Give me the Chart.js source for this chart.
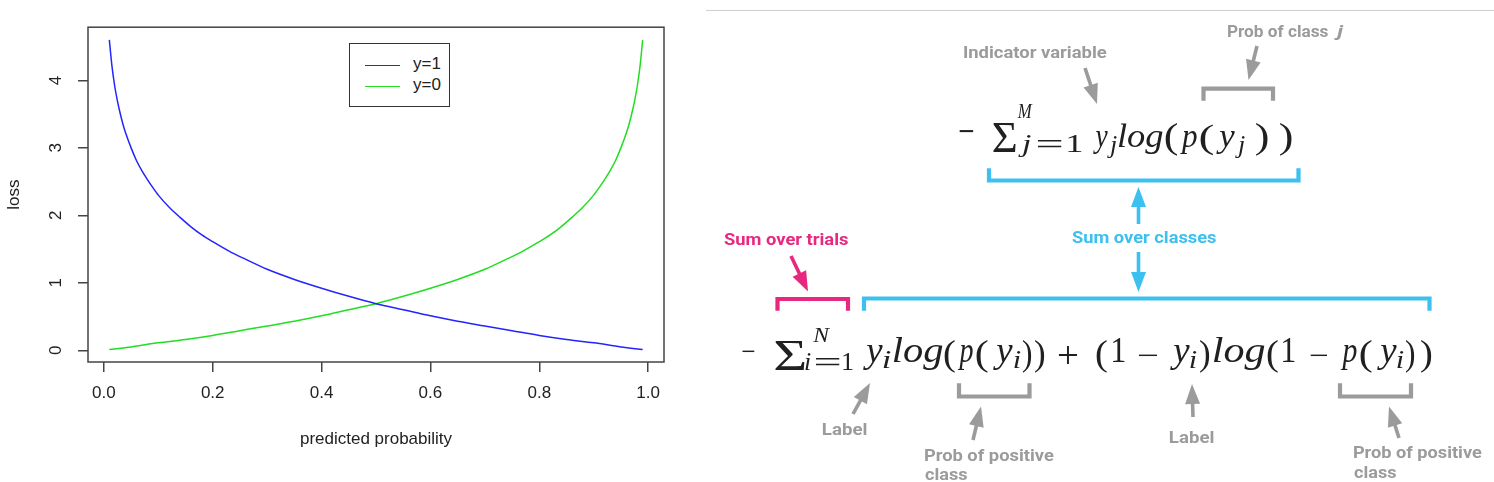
<!DOCTYPE html>
<html>
<head>
<meta charset="utf-8">
<script src="https://cdn.jsdelivr.net/npm/chart.js@4.4.0/dist/chart.umd.min.js"></script>
<style>
  html, body { margin: 0; padding: 0; background: #fff; }
  #wrap { position: relative; width: 1494px; height: 482px; overflow: hidden; }
  #lossChart { position: absolute; left: 0; top: 0; }
  #legend {
    position: absolute; left: 349px; top: 43px; width: 99px; height: 62px;
    border: 1.5px solid #333; background: #fff;
    font: 17px "Liberation Sans", Arial, sans-serif; color: #222;
  }
  #legend .sw { position: absolute; left: 15px; width: 35px; height: 0; border-top: 1.6px solid; }
  #legend .tx { position: absolute; left: 63px; line-height: 20px; }
  #diag { position: absolute; left: 0; top: 0; }
</style>
</head>
<body>
<div id="wrap">
  <canvas id="lossChart" width="700" height="482"></canvas>
  <div id="legend"></div>
  <svg id="diag" width="1494" height="482" xmlns="http://www.w3.org/2000/svg"></svg>
</div>
<script>
// predicted probability on x, loss on y
const probs1 = [0.01, 0.015, 0.02, 0.025, 0.03, 0.035, 0.04, 0.05, 0.06, 0.07, 0.08, 0.09, 0.1,
  0.12, 0.14, 0.16, 0.18, 0.2, 0.23, 0.26, 0.3, 0.35, 0.4, 0.45, 0.5, 0.55, 0.6, 0.65, 0.7,
  0.75, 0.8, 0.85, 0.9, 0.95, 0.99];
const lossY1 = [4.6, 4.2, 3.91, 3.69, 3.51, 3.35, 3.22, 3.0, 2.81, 2.66, 2.53, 2.41, 2.3,
  2.12, 1.97, 1.83, 1.71, 1.61, 1.47, 1.35, 1.2, 1.05, 0.92, 0.8, 0.69, 0.6, 0.51, 0.43, 0.36,
  0.29, 0.22, 0.16, 0.11, 0.05, 0.01];
const probs0 = [0.01, 0.05, 0.1, 0.15, 0.2, 0.25, 0.3, 0.35, 0.4, 0.45, 0.5, 0.55, 0.6, 0.65,
  0.7, 0.74, 0.77, 0.8, 0.82, 0.84, 0.86, 0.88, 0.9, 0.91, 0.92, 0.93, 0.94, 0.95, 0.96,
  0.965, 0.97, 0.975, 0.98, 0.985, 0.99];
const lossY0 = [0.01, 0.05, 0.11, 0.16, 0.22, 0.29, 0.36, 0.43, 0.51, 0.6, 0.69, 0.8, 0.92, 1.05,
  1.2, 1.35, 1.47, 1.61, 1.71, 1.83, 1.97, 2.12, 2.3, 2.41, 2.53, 2.66, 2.81, 3.0, 3.22,
  3.35, 3.51, 3.69, 3.91, 4.2, 4.6];

const seriesNames = ["y=1", "y=0"];
const xTicks = [0, 0.2, 0.4, 0.6, 0.8, 1.0];
const xTickLabels = ["0.0", "0.2", "0.4", "0.6", "0.8", "1.0"];
const yTicks = [0, 1, 2, 3, 4];
const yTickLabels = ["0", "1", "2", "3", "4"];

const BLUE = "#2424ff";
const GREEN = "#22de22";
const AXIS = "#444";
const FONT = "'Liberation Sans', Arial, sans-serif";

// R style box around the plot region
const plotBox = {
  id: "plotBox",
  afterDraw(chart) {
    const a = chart.chartArea;
    const ctx = chart.ctx;
    ctx.save();
    ctx.strokeStyle = AXIS;
    ctx.lineWidth = 1.5;
    ctx.strokeRect(a.left, a.top, a.right - a.left, a.bottom - a.top);
    ctx.restore();
  },
};

const ctx = document.getElementById("lossChart").getContext("2d");
new Chart(ctx, {
  type: "line",
  data: {
    datasets: [
      {
        label: seriesNames[0],
        data: probs1.map((p, i) => ({ x: p, y: lossY1[i] })),
        borderColor: BLUE,
        borderWidth: 1.5,
        pointRadius: 0,
        fill: false,
        cubicInterpolationMode: "monotone",
      },
      {
        label: seriesNames[1],
        data: probs0.map((p, i) => ({ x: p, y: lossY0[i] })),
        borderColor: GREEN,
        borderWidth: 1.5,
        pointRadius: 0,
        fill: false,
        cubicInterpolationMode: "monotone",
      },
    ],
  },
  options: {
    responsive: false,
    animation: false,
    devicePixelRatio: 1,
    layout: { padding: { top: 22, right: 36, left: 0, bottom: 0 } },
    plugins: { legend: { display: false }, tooltip: { enabled: false } },
    scales: {
      x: {
        type: "linear",
        min: -0.0292,
        max: 1.0292,
        afterBuildTicks: (s) => { s.ticks = xTicks.map((v) => ({ value: v })); },
        afterFit: (s) => { s.height = 120; },
        border: { display: false },
        grid: { drawOnChartArea: false, drawTicks: true, tickLength: 10, color: AXIS, lineWidth: 1.5 },
        ticks: {
          callback: (v, i) => xTickLabels[i],
          autoSkip: false, maxRotation: 0,
          font: { family: FONT, size: 17 }, color: "#222", padding: 11,
        },
        title: {
          display: true, text: "predicted probability",
          font: { family: FONT, size: 17 }, color: "#222",
          padding: { top: 0, bottom: 32 },
        },
      },
      y: {
        type: "linear",
        min: -0.174,
        max: 4.789,
        afterBuildTicks: (s) => { s.ticks = yTicks.map((v) => ({ value: v })); },
        afterFit: (s) => { s.width = 88; },
        border: { display: false },
        grid: { drawOnChartArea: false, drawTicks: true, tickLength: 10, color: AXIS, lineWidth: 1.5 },
        ticks: {
          callback: (v, i) => yTickLabels[i],
          autoSkip: false, minRotation: 90, maxRotation: 90, crossAlign: "center",
          font: { family: FONT, size: 17 }, color: "#222", padding: 17,
        },
        title: {
          display: true, text: "loss",
          font: { family: FONT, size: 17 }, color: "#222",
          padding: { top: 4, bottom: 0 },
        },
      },
    },
  },
  plugins: [plotBox],
});

// legend
const legend = document.getElementById("legend");
[[BLUE, 21], [GREEN, 42]].forEach(([c, y], i) => {
  const sw = document.createElement("div");
  sw.className = "sw";
  sw.style.top = y + "px";
  sw.style.borderColor = c;
  legend.appendChild(sw);
  const tx = document.createElement("div");
  tx.className = "tx";
  tx.style.top = (y - 11) + "px";
  tx.textContent = seriesNames[i];
  legend.appendChild(tx);
});

// ---------------- formula diagram ----------------
const NS = "http://www.w3.org/2000/svg";
const svg = document.getElementById("diag");
const GRAY = "#9b9b9b";
const CYAN = "#3cc0ef";
const PINK = "#e8287f";
const INK = "#202020";
const SERIF = "'Liberation Serif'";
const SANS = "Roboto";
const measure = document.createElement("canvas").getContext("2d");

function mk(tag, attrs, parent) {
  const e = document.createElementNS(NS, tag);
  for (const k in attrs) e.setAttribute(k, attrs[k]);
  (parent || svg).appendChild(e);
  return e;
}

// put one text run so its ink spans x0..x1; y is the baseline,
// or, when y1 is given, the ink spans y..y1 as well
function put(txt, st, x0, x1, y, y1) {
  const style = st.it ? "italic" : "normal";
  const weight = st.weight || 400;
  measure.font = `${style} ${weight} ${st.size}px ${st.family}`;
  const m = measure.measureText(txt);
  const kx = (x1 - x0) / (m.actualBoundingBoxLeft + m.actualBoundingBoxRight);
  const tx = x0 + m.actualBoundingBoxLeft * kx;
  let ky = 1, ty = y;
  if (y1 !== undefined) {
    ky = (y1 - y) / (m.actualBoundingBoxAscent + m.actualBoundingBoxDescent);
    ty = y + m.actualBoundingBoxAscent * ky;
  }
  const t = mk("text", {
    x: 0, y: 0, "font-family": st.family, "font-size": st.size, "font-style": style,
    "font-weight": weight, fill: st.color,
    transform: `translate(${tx.toFixed(2)},${ty.toFixed(2)}) scale(${kx.toFixed(4)},${ky.toFixed(4)})`,
  });
  t.textContent = txt;
}

function arrow(x1, y1, x2, y2, color) {
  const dx = x2 - x1, dy = y2 - y1, L = Math.hypot(dx, dy);
  const ux = dx / L, uy = dy / L, hl = 20, hw = 7.5;
  const bx = x2 - ux * hl, by = y2 - uy * hl;
  mk("line", { x1, y1, x2: bx + ux * 2, y2: by + uy * 2, stroke: color, "stroke-width": 3.6 });
  mk("polygon", {
    points: `${x2},${y2} ${bx - uy * hw},${by + ux * hw} ${bx + uy * hw},${by - ux * hw}`,
    fill: color,
  });
}

function bracket(x0, x1, yBar, yLeg, color) {
  mk("polyline", {
    points: `${x0},${yLeg} ${x0},${yBar} ${x1},${yBar} ${x1},${yLeg}`,
    fill: "none", stroke: color, "stroke-width": 4.2, "stroke-linejoin": "miter",
  });
}

function drawDiagram() {
  mk("line", { x1: 706, y1: 10.5, x2: 1494, y2: 10.5, stroke: "#cfcfcf", "stroke-width": 1.2 });

  const big = { family: SERIF, size: 33, color: INK };
  const bigI = { family: SERIF, size: 33, color: INK, it: true };
  const sm = { family: SERIF, size: 26, color: INK };
  const smI = { family: SERIF, size: 26, color: INK, it: true };
  const eq = { family: SERIF, size: 32, color: INK };

  // top formula
  put("\u2212", big, 959, 973, 130.4, 132.9);
  put("\u03A3", big, 993, 1016, 121.7, 151.7);
  put("M", { ...smI, size: 21 }, 1017, 1033, 118.3);
  put("j", smI, 1018, 1031, 152);
  put("=", eq, 1037, 1062, 140.6, 148);
  put("1", sm, 1068, 1082, 152);
  put("y", bigI, 1093, 1108, 147);
  put("j", smI, 1107, 1117, 153);
  put("log", bigI, 1118, 1163, 147);
  put("(", big, 1165, 1177, 123, 156.7);
  put("p", bigI, 1180, 1197, 147);
  put("(", big, 1200, 1213, 123, 156.7);
  put("y", bigI, 1216, 1235, 147);
  put("j", smI, 1235, 1245, 153);
  put(")", big, 1256, 1268, 123, 156.7);
  put(")", big, 1280, 1292, 123, 156.7);

  // bottom formula
  const b2 = { ...big, size: 35 };
  const b2I = { ...bigI, size: 35 };
  const s2I = { ...smI, size: 26 };
  put("\u2212", b2, 742, 755, 350.4, 352.9);
  put("\u03A3", b2, 775, 805, 340, 370);
  put("N", { ...smI, size: 21 }, 812, 830, 341.7);
  put("i", smI, 805, 811, 370);
  put("=", eq, 815, 840, 358.6, 366);
  put("1", sm, 843, 853, 370);
  put("y", b2I, 863, 883, 362);
  put("i", s2I, 883, 891, 368);
  put("log", b2I, 893, 943, 362);
  put("(", b2, 944, 955, 338, 373);
  put("p", b2I, 957, 973, 362);
  put("(", b2, 976, 988, 338, 373);
  put("y", b2I, 993, 1013, 362);
  put("i", s2I, 1014, 1021, 368);
  put(")", b2, 1023, 1032, 338, 373);
  put(")", b2, 1035, 1045, 338, 373);
  put("+", b2, 1058, 1078, 345, 365);
  put("(", b2, 1096, 1107, 338, 373);
  put("1", b2, 1113, 1125, 362);
  put("\u2212", b2, 1138, 1158, 353.8, 356.3);
  put("y", b2I, 1170, 1190, 362);
  put("i", s2I, 1190, 1197, 368);
  put(")", b2, 1200, 1210, 338, 373);
  put("log", b2I, 1213, 1265, 362);
  put("(", b2, 1267, 1278, 338, 373);
  put("1", b2, 1283, 1295, 362);
  put("\u2212", b2, 1310, 1328, 353.8, 356.3);
  put("p", b2I, 1340, 1357, 362);
  put("(", b2, 1360, 1372, 338, 373);
  put("y", b2I, 1377, 1397, 362);
  put("i", s2I, 1397, 1404, 368);
  put(")", b2, 1406, 1415, 338, 373);
  put(")", b2, 1421, 1432, 338, 373);

  // labels
  const g = { family: SANS, size: 16.5, weight: 700, color: GRAY };
  put("Prob of class", g, 1228, 1328, 36.5);
  put("j", { ...g, it: true }, 1333, 1344, 36.5);
  put("Indicator variable", g, 964, 1107, 58.3);
  put("Sum over trials", { ...g, color: PINK }, 724, 848, 245);
  put("Sum over classes", { ...g, color: CYAN }, 1072, 1216, 243.3);
  put("Label", g, 823, 867, 435);
  put("Prob of positive", g, 925, 1054, 460.7);
  put("class", g, 925, 967, 480);
  put("Label", g, 1170, 1214, 442.7);
  put("Prob of positive", g, 1354, 1482, 458.3);
  put("class", g, 1354, 1396, 478.3);

  // brackets
  bracket(1203.5, 1273, 88.7, 100.7, GRAY);
  bracket(989, 1298.5, 180.5, 168.3, CYAN);
  bracket(777.5, 848, 299, 310.7, PINK);
  bracket(864, 1429.5, 298.5, 310.7, CYAN);
  bracket(959, 1029.5, 396.5, 383.3, GRAY);
  bracket(1340, 1411, 396.5, 383.3, GRAY);

  // arrows (tail -> tip)
  arrow(1085, 68, 1097, 104, GRAY);
  arrow(1257, 46, 1248.5, 80, GRAY);
  arrow(1138.5, 224, 1138.5, 187, CYAN);
  arrow(1138.5, 252, 1138.5, 292, CYAN);
  arrow(791, 256, 808, 291.5, PINK);
  arrow(853, 414, 870, 383, GRAY);
  arrow(973, 440, 981, 406.5, GRAY);
  arrow(1193, 417, 1192, 384, GRAY);
  arrow(1399, 438, 1389, 406.5, GRAY);
}

drawDiagram();
</script>
</body>
</html>
